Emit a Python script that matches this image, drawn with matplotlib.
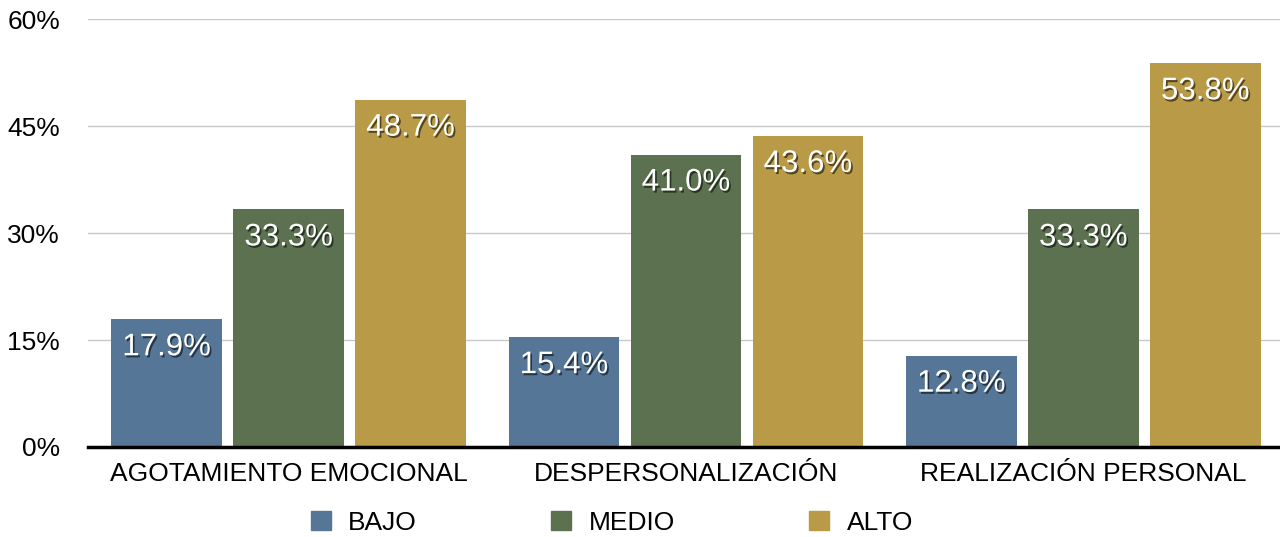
import numpy as np
import matplotlib.pyplot as plt
import matplotlib.patheffects as pe
from matplotlib.patches import Patch

plt.rcParams["font.family"] = ["Liberation Sans", "DejaVu Sans"]

categories = ["AGOTAMIENTO EMOCIONAL", "DESPERSONALIZACIÓN", "REALIZACIÓN PERSONAL"]
series_names = ["BAJO", "MEDIO", "ALTO"]
bajo = [17.9, 15.4, 12.8]
medio = [33.3, 41.0, 33.3]
alto = [48.7, 43.6, 53.8]
yticks = [0, 15, 30, 45, 60]
colors = ["#557696", "#5c7150", "#b99a47"]

fig = plt.figure(figsize=(12.8, 5.37), dpi=100)
ax = fig.add_axes([0.06875, 0.1676, 0.93125, 0.797])

x = np.arange(len(categories))
width = 0.279
step = 0.307
shadow = [pe.withSimplePatchShadow(offset=(1.2, -1.5), shadow_rgbFace="black", alpha=0.55)]

for i, (vals, name, col) in enumerate(zip([bajo, medio, alto], series_names, colors)):
    pos = x + (i - 1) * step
    ax.bar(pos, vals, width, color=col, zorder=3, label=name)
    for p, v in zip(pos, vals):
        ax.annotate(f"{v:.1f}%", (p, v), xytext=(0, -28), textcoords="offset pixels",
                    ha="center", va="center", color="white", fontsize=22.5,
                    path_effects=shadow, zorder=4)

ax.set_xlim(-0.505, 2.495)
ax.set_ylim(0, 60)
ax.set_yticks(yticks)
ax.set_yticklabels([f"{t}%" for t in yticks], fontsize=19)
ax.set_xticks(x)
ax.set_xticklabels(categories, fontsize=19)
ax.tick_params(axis="y", length=0, pad=20)
ax.tick_params(axis="x", length=0, pad=11)
ax.grid(axis="y", color="#c8c8c8", lw=1, zorder=0)
for s in ["top", "right", "left"]:
    ax.spines[s].set_visible(False)
ax.spines["bottom"].set_color("black")
ax.spines["bottom"].set_linewidth(2.5)
ax.spines["bottom"].set_zorder(5)

handles = [Patch(color=c, label=n) for c, n in zip(colors, series_names)]
fig.legend(handles=handles, loc="center", bbox_to_anchor=(0.478, 0.027), ncol=3,
           frameon=False, fontsize=19, handlelength=0.76, handleheight=0.76,
           handletextpad=0.65, columnspacing=5.1)

fig.savefig("out.png", dpi=100)
